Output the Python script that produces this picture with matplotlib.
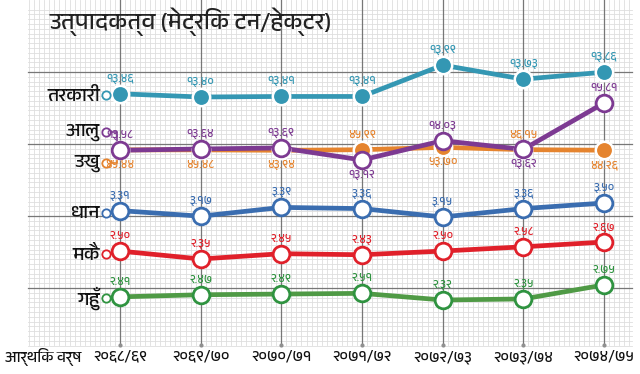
import matplotlib
matplotlib.use("Agg")
import matplotlib.pyplot as plt
import numpy as np
from matplotlib import font_manager
from matplotlib.ft2font import FT2Font


def find_deva_font():
    # look for an installed font that has Devanagari glyphs
    found = []
    for f in font_manager.fontManager.ttflist:
        try:
            cmap = FT2Font(f.fname).get_charmap()
        except Exception:
            continue
        if 0x0924 in cmap and 0x0967 in cmap:
            found.append(f.name)
    found = sorted(set(found), key=lambda n: ("Devanagari" not in n, n))
    return found


deva = find_deva_font()
fams = (deva[:1] if deva else []) + ["DejaVu Sans"]
plt.rcParams["font.family"] = fams

# data
years = ["२०६८/६९", "२०६९/७०", "२०७०/७१", "२०७१/७२", "२०७२/७३", "२०७३/७४", "२०७४/७५"]
crops = ["तरकारी", "आलु", "उखु", "धान", "मकै", "गहुँ"]
tarkari = [13.46, 13.40, 13.41, 13.41, 13.99, 13.73, 13.86]
aalu = [13.58, 13.64, 13.69, 13.12, 14.03, 13.62, 15.81]
ukhu = [45.44, 45.48, 43.94, 45.99, 53.70, 46.15, 44.26]
dhan = [3.31, 3.17, 3.39, 3.36, 3.15, 3.36, 3.50]
makai = [2.50, 2.35, 2.45, 2.43, 2.50, 2.58, 2.67]
gahun = [2.41, 2.47, 2.49, 2.51, 2.32, 2.35, 2.75]

DIG = str.maketrans("0123456789", "०१२३४५६७८९")


def deva_num(v):
    return f"{v:.2f}".translate(DIG)


# per series: values, colour, filled?, (pixel base, ref value, px per unit), label side per point
series = [
    (tarkari, "#3497b3", True, (97, 13.40, 54), [1] * 7),
    (ukhu, "#e5842f", True, (150, 45.0, 0.3), [-1, -1, -1, 1, -1, 1, -1]),
    (aalu, "#7d3a92", False, (160, 13.12, 21.2), [1, 1, 1, -1, 1, -1, 1]),
    (dhan, "#3a6db0", False, (217, 3.15, 40), [1] * 7),
    (makai, "#e0202a", False, (259, 2.35, 53), [1] * 7),
    (gahun, "#2f9340", False, (300, 2.32, 35), [1] * 7),
]
line_col = {"#2f9340": "#4f9a45"}

fig = plt.figure(figsize=(6.4, 3.74), dpi=100)
ax = fig.add_axes([0, 0, 1, 1])
unit = 484 / 6
ax.set_xlim(-120 / unit, 520 / unit)
ax.set_ylim(374, 0)
ax.axis("off")

# graph paper background
x0, x1 = (28 - 120) / unit, (632 - 120) / unit
for xv in np.arange(-1.125, x1, 1 / 16):
    ax.plot([xv, xv], [0, 345], color="#dedede", lw=0.6, zorder=0)
for yv in np.arange(9.6, 346, 4.8):
    ax.plot([x0, x1], [yv, yv], color="#dedede", lw=0.6, zorder=0)
for yv in [72, 144, 216, 288]:
    ax.plot([x0, x1], [yv, yv], color="#777777", lw=0.9, zorder=1)
x = np.arange(len(years))
for xv in x:
    ax.plot([xv, xv], [0, 345], color="#777777", lw=0.9, zorder=1)
    ax.plot(xv, 345, "o", ms=2, color="#909090", zorder=1)

ax.text(50 / unit - 120 / unit, 22, "उत्पादकत्व (मेट्रिक टन/हेक्टर)", fontsize=17,
        ha="left", va="center", color="#222222", zorder=5)

name_y = {}
for (vals, col, filled, (base, ref, k), side), name in zip(
        series, ["तरकारी", "उखु", "आलु", "धान", "मकै", "गहुँ"]):
    yp = base - k * (np.array(vals) - ref)
    lc = line_col.get(col, col)
    ax.plot(x, yp, color=lc, lw=3.4, solid_capstyle="round", zorder=3)
    if filled:
        ax.plot(x, yp, "o", ms=12.5, mfc=col, mec="white", mew=1.8, zorder=4)
    else:
        ax.plot(x, yp, "o", ms=12, mfc="white", mec=col, mew=2.0, zorder=4)
    for xi, yi, v, s in zip(x, yp, vals, side):
        ax.text(xi, yi - 15 * s, deva_num(v), fontsize=8.5, color=col,
                ha="center", va="center", zorder=5)
    name_y[name] = (yp[0], col)

# left name markers
lab_pos = {"तरकारी": 95, "आलु": 132, "उखु": 163, "धान": 213, "मकै": 254, "गहुँ": 298}
xn = (106 - 120) / unit
xc = (117 - 120) / unit
for name in crops:
    y0, col = name_y[name]
    yl = lab_pos[name]
    ax.plot([xn, xc, xc, 0], [yl, yl, y0, y0], color=col, lw=1.2, zorder=2)
    ax.plot(xn, yl, "o", ms=6, mfc="white", mec=col, mew=1.3, zorder=4)
    ax.text((100 - 120) / unit, yl, name, fontsize=14, ha="right", va="center",
            color="#111111", zorder=5)

# x axis labels
for xi, lab in zip(x, years):
    ax.text(xi, 357, lab, fontsize=11, ha="center", va="center", color="#111111")
ax.text((5 - 120) / unit, 357, "आर्थिक वर्ष", fontsize=11, ha="left", va="center",
        color="#111111")

if not deva:
    ax.text(0, 370, "no deva font", fontsize=6)

fig.savefig("out.png", dpi=100)
